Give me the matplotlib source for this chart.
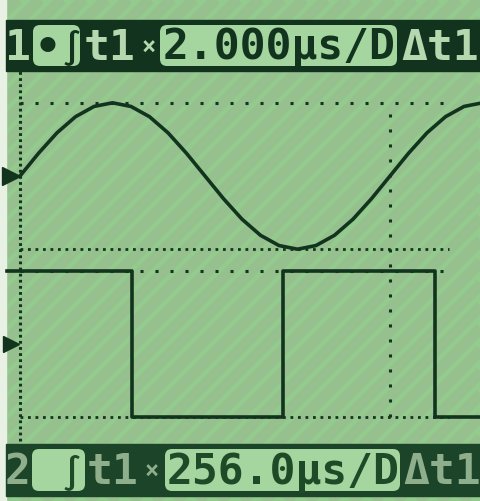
import matplotlib
matplotlib.use('Agg')
import matplotlib.pyplot as plt
from matplotlib.patches import Rectangle, FancyBboxPatch

plt.rcParams['lines.scale_dashes'] = False

# channel 1 (2.000 us/div): sine trace, divisions above/below its ground marker
ch1_time_us = [0, 0.5, 1.0, 1.5, 2.0, 2.5, 3.0, 3.5, 4.0, 4.5, 5.0, 5.5, 6.0,
               6.5, 7.0, 7.5, 8.0, 8.5, 9.0, 9.5, 10.0, 10.5, 11.0, 11.5, 12.0, 12.5]
ch1_div = [0.0, 0.62, 1.18, 1.62, 1.90, 2.00, 1.90, 1.62, 1.18, 0.62, 0.0, -0.62, -1.18,
           -1.62, -1.90, -2.00, -1.90, -1.62, -1.18, -0.62, 0.0, 0.62, 1.18, 1.62, 1.90, 2.00]
ch1_us_per_div = 2.0

# channel 2 (256.0 us/div): square wave, level after each edge
ch2_time_us = [-45, 387, 910, 1436, 1600]
ch2_div = [2, -2, 2, -2, -2]
ch2_us_per_div = 256.0

# cursors
cursor_time_us = 10.0
cursor_ch1_div = [2, -2]
cursor_ch2_div = [2, -2]

top_labels = ['1', '•', '∫', 't1', '×', '2.000µs/D', 'Δt1']
bottom_labels = ['2', '∫', 't1', '×', '256.0µs/D', 'Δt1']

# screen layout (pixels)
W, H = 480, 502
PX_X, PX_Y = 74.0, 36.6
X0 = 20
CH1_Y, CH2_Y = 177, 345

dark = '#12331d'
bg_col = '#93ca8e'
light_box = '#a6d69f'
mono = ['DejaVu Sans Mono', 'DejaVu Sans']

fig = plt.figure(figsize=(W / 100, H / 100), dpi=100)
bg = fig.add_axes([0, 0, 1, 1])
bg.set_xlim(0, W)
bg.set_ylim(H, 0)
bg.axis('off')

bg.add_patch(Rectangle((0, 0), W, H, color=bg_col, zorder=0))
bg.add_patch(Rectangle((0, 0), 6, H, color='#e9f1e4', zorder=3))
# lcd moire stripes
for k in range(-30, 50):
    x0 = k * 22
    bg.plot([x0, x0 + H], [H, 0], color='#a89a98', lw=8, alpha=0.17,
            solid_capstyle='butt', zorder=1)

tr = fig.add_axes([0, 0, 1, 1])
tr.set_xlim(-X0 / PX_X, (W - X0) / PX_X)
tr.set_ylim(0, H / PX_Y)
tr.axis('off')
tr.patch.set_alpha(0)

ch1_off = (H - CH1_Y) / PX_Y
ch2_off = (H - CH2_Y) / PX_Y

def px_y(p):
    return (H - p) / PX_Y

sparse = (0, (2.2, 8.6))
dense = (0, (2.0, 3.4))

# graticule / cursors
x_end = (445 - X0) / PX_X
tr.hlines(ch1_off + cursor_ch1_div[0], 0, x_end, color=dark, lw=2.2, linestyles=[sparse])
tr.hlines(ch1_off + cursor_ch1_div[1], 0, x_end + 0.05, color=dark, lw=2.0, linestyles=[dense])
tr.hlines(ch2_off + cursor_ch2_div[0], 0, x_end + 0.05, color=dark, lw=2.2, linestyles=[sparse])
tr.hlines(ch2_off + cursor_ch2_div[1], 0, x_end + 0.05, color=dark, lw=2.0, linestyles=[dense])
tr.vlines(cursor_time_us / ch1_us_per_div, ch2_off + cursor_ch2_div[1],
          ch1_off + cursor_ch1_div[0], color=dark, lw=2.2, linestyles=[sparse])
tr.vlines(0, px_y(442), px_y(72), color=dark, lw=2.2, linestyles=[(0, (2.0, 2.4))])

# traces
tr.plot([t / ch1_us_per_div for t in ch1_time_us], [ch1_off + v for v in ch1_div],
        color=dark, lw=2.6)
tr.step([t / ch2_us_per_div for t in ch2_time_us], [ch2_off + v for v in ch2_div],
        where='post', color=dark, lw=2.6)

# ground markers
tr.plot(-0.12, ch1_off, marker='>', ms=13, color=dark)
tr.plot(-0.12, ch2_off, marker='>', ms=11, color=dark)

def bar(y0, y1, boxes, texts, dark_c):
    bg.add_patch(Rectangle((6, y0), W - 6, y1 - y0, color=dark_c, zorder=4))
    for bx0, bx1 in boxes:
        bg.add_patch(FancyBboxPatch((bx0, y0 + 5), bx1 - bx0, y1 - y0 - 10,
                                    boxstyle='round,pad=0,rounding_size=7',
                                    fc=light_box, ec='none', zorder=5))
    yc = (y0 + y1) / 2 + 1
    for x, s, c, fs in texts:
        bg.text(x, yc, s, color=c, fontsize=fs, family=mono, fontweight='bold',
                ha='left', va='center', zorder=6)

top_light = '#b6d8ae'
bar(21, 72, [(33, 80), (160, 397)],
    [(5, top_labels[0], top_light, 31),
     (35, top_labels[1], dark, 31),
     (62, top_labels[2], dark, 24),
     (84, top_labels[3], top_light, 31),
     (142, top_labels[4], top_light, 17),
     (163, top_labels[5], dark, 31),
     (401, top_labels[6], top_light, 31)],
    dark)

bot_light, bot_dark = '#8fae8c', '#1e4a28'
bar(445, 497, [(32, 85), (165, 400)],
    [(5, bottom_labels[0], bot_light, 31),
     (62, bottom_labels[1], bot_dark, 24),
     (87, bottom_labels[2], bot_light, 31),
     (145, bottom_labels[3], bot_light, 17),
     (167, bottom_labels[4], bot_dark, 31),
     (403, bottom_labels[5], bot_light, 31)],
    '#1c4428')

fig.savefig('out.png', dpi=100)
